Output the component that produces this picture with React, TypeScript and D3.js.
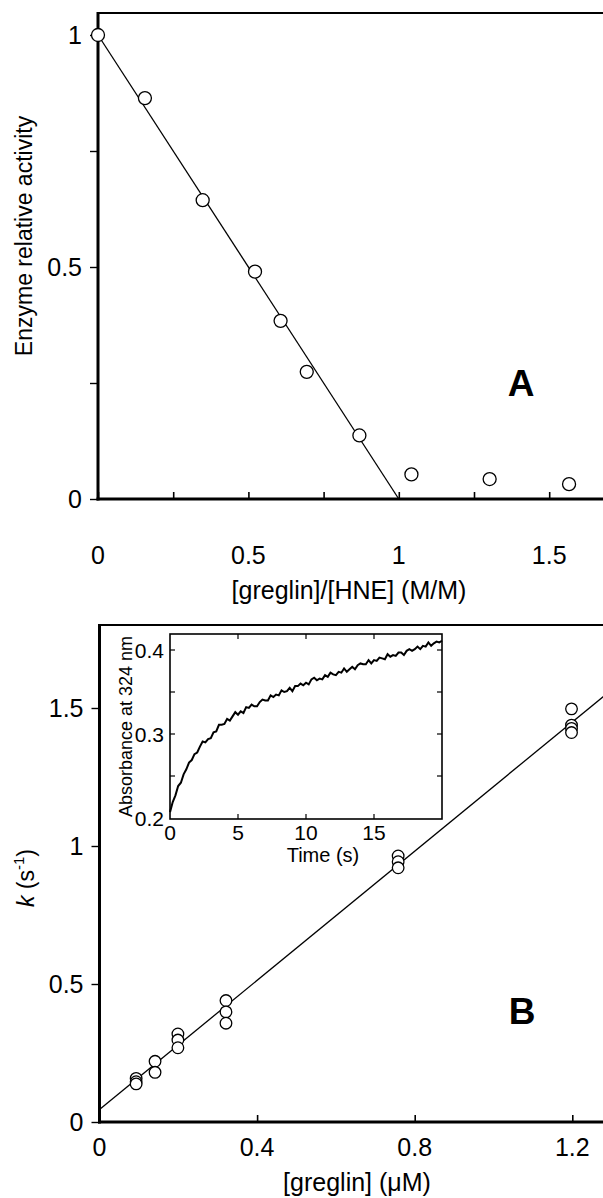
import React, { useRef, useEffect } from 'react';
import * as d3 from 'd3';

// Panel A: relative activity vs [greglin]/[HNE]
const ratioA = [0, 0.156, 0.348, 0.522, 0.607, 0.694, 0.869, 1.042, 1.302, 1.566];
const activityA = [1.0, 0.864, 0.644, 0.49, 0.384, 0.274, 0.137, 0.053, 0.043, 0.032];
const fitA = [[0, 1], [1, 0]];
const aXTicks = [0, 0.25, 0.5, 0.75, 1, 1.25, 1.5];
const aXLabels = [0, 0.5, 1, 1.5];
const aYTicks = [0, 0.25, 0.5, 0.75, 1];
const aYLabels = [0, 0.5, 1];

// Panel B: k vs [greglin]
const greglinB = [0.093, 0.093, 0.093, 0.141, 0.141, 0.199, 0.199, 0.199, 0.321, 0.321, 0.321,
  0.758, 0.758, 0.758, 1.198, 1.198, 1.198, 1.198];
const kB = [0.158, 0.146, 0.138, 0.22, 0.18, 0.319, 0.297, 0.269, 0.44, 0.399, 0.358,
  0.964, 0.943, 0.921, 1.497, 1.438, 1.426, 1.411];
const fitB = [[0, 0.045], [1.28, 1.543]];
const bXTicks = [0, 0.4, 0.8, 1.2];
const bYTicks = [0, 0.5, 1, 1.5];

// Inset: absorbance trace, sampled every 0.2 s
const traceStep = 0.2;
const traceAbs = [
  0.207, 0.219, 0.227, 0.238, 0.242, 0.252, 0.258, 0.266, 0.269, 0.276,
  0.278, 0.285, 0.291, 0.290, 0.294, 0.295, 0.302, 0.303, 0.311, 0.311,
  0.312, 0.318, 0.316, 0.321, 0.326, 0.323, 0.327, 0.325, 0.332, 0.331,
  0.335, 0.333, 0.333, 0.338, 0.341, 0.340, 0.340, 0.346, 0.344, 0.347,
  0.346, 0.352, 0.350, 0.351, 0.355, 0.351, 0.357, 0.357, 0.360, 0.358,
  0.361, 0.359, 0.365, 0.367, 0.364, 0.366, 0.365, 0.370, 0.368, 0.373,
  0.371, 0.370, 0.374, 0.373, 0.378, 0.374, 0.377, 0.380, 0.377, 0.382,
  0.384, 0.383, 0.383, 0.388, 0.384, 0.388, 0.387, 0.391, 0.390, 0.389,
  0.395, 0.392, 0.394, 0.393, 0.397, 0.397, 0.394, 0.399, 0.401, 0.399,
  0.401, 0.404, 0.401, 0.405, 0.404, 0.409, 0.405, 0.408, 0.410, 0.409,
  0.411,
];
const iXTicks = [5, 10, 15];
const iXLabels = [0, 5, 10, 15];
const iYTicks = [0.25, 0.3, 0.35, 0.4];
const iYLabels = [0.2, 0.3, 0.4];

const FONT = '"Liberation Sans", Arial, Helvetica, sans-serif';
const W = 603;
const FS = 25; // horizontal text
const FSV = 23; // rotated axis titles

const App = () => {
  const ref = useRef(null);

  useEffect(() => {
    if (!ref.current) return;
    const svg = d3.select(ref.current);
    svg.selectAll('*').remove();
    svg.attr('font-family', FONT);

    const hline = (g, x1, x2, y, w) =>
      g.append('line').attr('x1', x1).attr('x2', x2).attr('y1', y).attr('y2', y)
        .attr('stroke', '#000').attr('stroke-width', w);
    const vline = (g, x, y1, y2, w) =>
      g.append('line').attr('x1', x).attr('x2', x).attr('y1', y1).attr('y2', y2)
        .attr('stroke', '#000').attr('stroke-width', w);

    // draws one main panel: frame, ticks, labels
    const panel = (x, y, top, xTicks, xLabels, yTicks, yLabels, xLabelY) => {
      const g = svg.append('g');
      const x0 = x.range()[0];
      const y0 = y.range()[0];

      g.append('g')
        .attr('transform', `translate(${x0},0)`)
        .call(d3.axisLeft(y).tickValues(yTicks).tickSize(8).tickFormat(() => ''))
        .call(a => a.select('.domain').remove())
        .selectAll('line').attr('stroke-width', 1.4);

      g.append('g')
        .attr('transform', `translate(0,${y0})`)
        .call(d3.axisBottom(x).tickValues(xTicks).tickSize(-7).tickFormat(() => ''))
        .call(a => a.select('.domain').remove())
        .selectAll('line').attr('stroke-width', 1.6);

      hline(g, x0, W, top, 2);
      vline(g, x0, top - 1, y0 + 1.5, 3);
      hline(g, x0 - 1.5, W, y0, 3);

      g.selectAll('.ylab').data(yLabels).enter().append('text')
        .attr('x', x0 - 16).attr('y', d => y(d))
        .attr('text-anchor', 'end').attr('dominant-baseline', 'central')
        .attr('font-size', FS).text(d => String(d));

      g.selectAll('.xlab').data(xLabels).enter().append('text')
        .attr('x', d => x(d)).attr('y', xLabelY)
        .attr('text-anchor', 'middle').attr('dominant-baseline', 'central')
        .attr('font-size', FS).text(d => String(d));
      return g;
    };

    const circles = (g, xs, ys, x, y, r) => {
      g.selectAll('circle.pt').data(xs).enter().append('circle')
        .attr('cx', d => x(d)).attr('cy', (d, i) => y(ys[i])).attr('r', r)
        .attr('fill', '#fff').attr('stroke', '#000').attr('stroke-width', 1.3);
    };

    // ---------- Panel A ----------
    const xA = d3.scaleLinear().domain([0, 1.5]).range([98, 549.2]);
    const yA = d3.scaleLinear().domain([0, 1]).range([499, 35]);
    const gA = panel(xA, yA, 13, aXTicks, aXLabels, aYTicks, aYLabels, 555);

    gA.append('path')
      .attr('d', d3.line().x(d => xA(d[0])).y(d => yA(d[1]))(fitA))
      .attr('fill', 'none').attr('stroke', '#000').attr('stroke-width', 1.3);
    circles(gA, ratioA, activityA, xA, yA, 6.5);

    gA.append('text').attr('x', 349).attr('y', 590)
      .attr('text-anchor', 'middle').attr('dominant-baseline', 'central')
      .attr('font-size', FS).text('[greglin]/[HNE] (M/M)');
    gA.append('text')
      .attr('transform', 'translate(24,236) rotate(-90)')
      .attr('text-anchor', 'middle').attr('dominant-baseline', 'central')
      .attr('font-size', FSV).text('Enzyme relative activity');
    gA.append('text').attr('x', 521).attr('y', 383)
      .attr('text-anchor', 'middle').attr('dominant-baseline', 'central')
      .attr('font-size', 37).attr('font-weight', 'bold').text('A');

    // ---------- Panel B ----------
    const xB = d3.scaleLinear().domain([0, 1.2]).range([99.5, 572.3]);
    const yB = d3.scaleLinear().domain([0, 1.5]).range([1122, 708]);
    const gB = panel(xB, yB, 625, bXTicks, bXTicks, bYTicks, bYTicks, 1147);

    gB.append('path')
      .attr('d', d3.line().x(d => xB(d[0])).y(d => yB(d[1]))(fitB))
      .attr('fill', 'none').attr('stroke', '#000').attr('stroke-width', 1.3);
    circles(gB, greglinB, kB, xB, yB, 5.8);

    gB.append('text').attr('x', 357).attr('y', 1182)
      .attr('text-anchor', 'middle').attr('dominant-baseline', 'central')
      .attr('font-size', FS).text('[greglin] (μM)');
    const kt = gB.append('text')
      .attr('transform', 'translate(26,878) rotate(-90)')
      .attr('text-anchor', 'middle').attr('dominant-baseline', 'central')
      .attr('font-size', FSV);
    kt.append('tspan').attr('font-style', 'italic').text('k');
    kt.append('tspan').text(' (s');
    kt.append('tspan').attr('font-size', 15).attr('dy', -8).text('-1');
    kt.append('tspan').attr('dy', 8).text(')');
    gB.append('text').attr('x', 522).attr('y', 1011)
      .attr('text-anchor', 'middle').attr('dominant-baseline', 'central')
      .attr('font-size', 37).attr('font-weight', 'bold').text('B');

    // ---------- Inset ----------
    const xI = d3.scaleLinear().domain([0, 20]).range([170, 442]);
    const yI = d3.scaleLinear().domain([0.2, 0.4]).range([818, 650]);
    const gI = svg.append('g');
    const [il, ir] = xI.range();
    const ib = 819;
    const it = 634;
    gI.append('rect').attr('x', il).attr('y', it).attr('width', ir - il).attr('height', ib - it)
      .attr('fill', '#fff').attr('stroke', 'none');

    const traceData = traceAbs.map((v, i) => [i * traceStep, v]);
    gI.append('path')
      .attr('d', d3.line().x(d => xI(d[0])).y(d => yI(d[1]))(traceData))
      .attr('fill', 'none').attr('stroke', '#000').attr('stroke-width', 2)
      .attr('stroke-linejoin', 'miter');

    iYTicks.forEach(v => {
      hline(gI, il, il + 5, yI(v), 1.2);
      hline(gI, ir - 5, ir, yI(v), 1.2);
    });
    iXTicks.forEach(v => {
      vline(gI, xI(v), ib, ib - 5, 1.2);
      vline(gI, xI(v), it, it + 5, 1.2);
    });
    gI.append('rect').attr('x', il).attr('y', it).attr('width', ir - il).attr('height', ib - it)
      .attr('fill', 'none').attr('stroke', '#000').attr('stroke-width', 1.6);

    gI.selectAll('.iy').data(iYLabels).enter().append('text')
      .attr('x', il - 6).attr('y', d => yI(d))
      .attr('text-anchor', 'end').attr('dominant-baseline', 'central')
      .attr('font-size', 21).text(d => d3.format('.1f')(d));
    gI.selectAll('.ix').data(iXLabels).enter().append('text')
      .attr('x', d => xI(d)).attr('y', 832)
      .attr('text-anchor', 'middle').attr('dominant-baseline', 'central')
      .attr('font-size', 21).text(d => String(d));
    gI.append('text').attr('x', 323).attr('y', 855)
      .attr('text-anchor', 'middle').attr('dominant-baseline', 'central')
      .attr('font-size', 20).text('Time (s)');
    gI.append('text')
      .attr('transform', `translate(126,${(it + ib) / 2}) rotate(-90)`)
      .attr('text-anchor', 'middle').attr('dominant-baseline', 'central')
      .attr('font-size', 18).text('Absorbance at 324 nm');
  }, []);

  return (
    <svg
      ref={ref}
      width={W}
      height={1198}
      style={{ position: 'absolute', left: 0, top: 0, background: '#fff' }}
    />
  );
};

export default App;
